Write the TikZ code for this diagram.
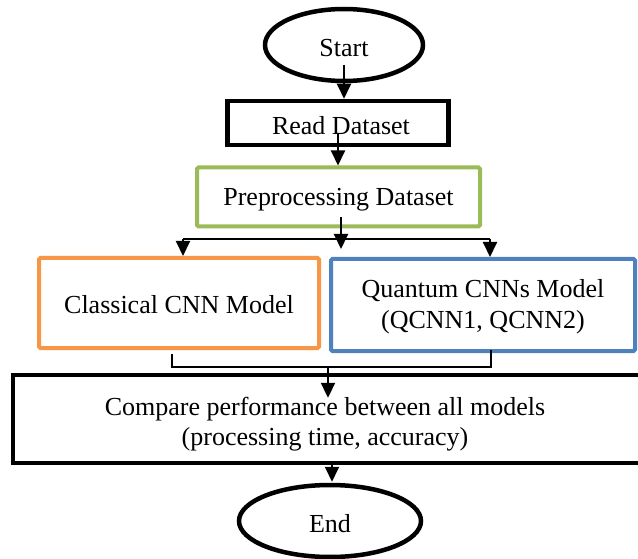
\documentclass[tikz,border=0pt]{standalone}
\usepackage{fontspec}
\setmainfont{Liberation Serif}
\usetikzlibrary{shapes.geometric,arrows.meta,calc}
\definecolor{cOrange}{HTML}{F79646}
\definecolor{cBlue}{HTML}{4F81BD}
\definecolor{cGreen}{HTML}{9BBB59}
\begin{document}
\begin{tikzpicture}[x=1pt,y=-1pt,
  every node/.style={inner sep=0pt},
  txt/.style={font=\fontsize{26}{31}\selectfont, align=center},
  term/.style={ellipse, draw=black, line width=4.5pt},
  blackbox/.style={rectangle, draw=black, line width=4.5pt},
  colbox/.style={rectangle, line width=4pt, rounded corners=1.5pt},
  conn/.style={draw=black, line width=2pt},
  arr/.style={conn, -{Triangle[length=15pt,width=14pt]}}
]
\useasboundingbox (0,0) rectangle (638,559);
\fill[white] (0,0) rectangle (638,559);

% shapes
\node[term, minimum width=158, minimum height=72] (start) at (344,45) {};
\node[blackbox, minimum width=221, minimum height=44] (read) at (338,123) {};
\node[colbox, draw=cGreen, minimum width=283, minimum height=59] (pre) at (338.5,197) {};
\node[colbox, draw=cOrange, minimum width=280, minimum height=90] (cls) at (179,303) {};
\node[colbox, draw=cBlue, minimum width=304, minimum height=92] (qnt) at (483,305) {};
\node[minimum width=624, minimum height=88] (cmp) at (325,419) {};
\draw[line width=4.5pt] ($(cmp.north east)+(25,0)$) -- (cmp.north west) -- (cmp.south west) -- ($(cmp.south east)+(25,0)$);
\node[term, minimum width=182, minimum height=72] (end) at (330,521) {};

% texts
\node[txt] (startT) at ([yshift=-3pt]start.center) {Start};
\node[txt] (readT) at ([xshift=3pt,yshift=-3pt]read.center) {Read Dataset};
\node[txt] (preT) at ([yshift=-3pt]pre.center) {Preprocessing Dataset};
\node[txt] (clsT) at ([yshift=-2pt]cls.center) {Classical CNN Model};
\node[txt] (qntT) at ([yshift=-2pt]qnt.center) {Quantum CNNs Model\\(QCNN1, QCNN2)};
\node[txt, font=\fontsize{26}{30}\selectfont] (cmpT) at ([yshift=-5pt]cmp.center) {Compare performance between all models\\(processing time, accuracy)};
\node[txt] (endT) at ([yshift=-3pt]end.center) {End};

% connectors
\draw[arr] ([yshift=-20pt]start.center) -- (start.center |- read.north);
\draw[arr] ([yshift=-10pt]read.center) -- (read.center |- pre.north);

\coordinate (pm) at (341,217);
\coordinate (jm) at (341,239);
\coordinate (jmend) at (341,249);
\coordinate (jl) at (183,239);
\coordinate (jr) at (490,239);
\draw[conn] (pm) -- (jm);
\draw[arr] (jm) -- (jmend);
\draw[conn] (jl) -- (jr);
\draw[arr] (jl) -- (jl |- cls.north);
\draw[arr] (jr) -- (jr |- qnt.north);

\coordinate (bl) at (172,354);
\coordinate (br) at (491,350);
\coordinate (bm) at (328,367);
\draw[conn] (bl) -- (bl |- bm) -- (br |- bm) -- (br);
\draw[arr] (bm) -- ([yshift=-23pt]cmp.north -| bm);

\draw[arr] (cmp.south -| 332,0) -- ([yshift=1pt]end.north -| 332,0);
\end{tikzpicture}
\end{document}
